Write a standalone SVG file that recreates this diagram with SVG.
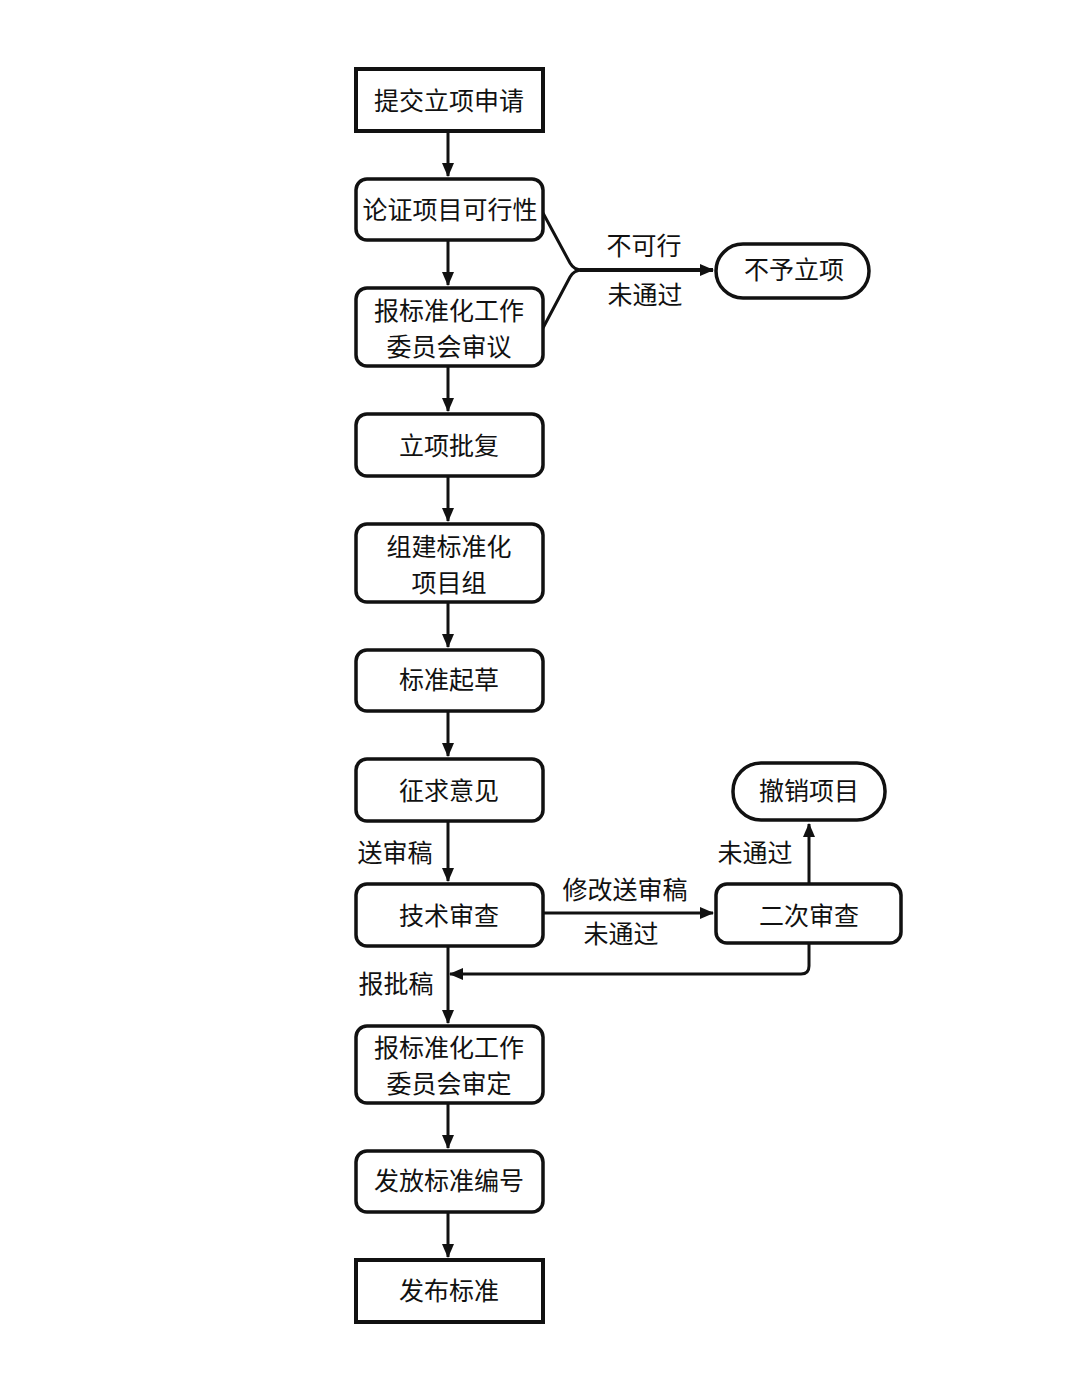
<svg xmlns="http://www.w3.org/2000/svg" width="1079" height="1385" viewBox="0 0 1079 1385">
<style>
.box{fill:#fff;stroke:#111;stroke-width:3.5}
.sq{fill:#fff;stroke:#111;stroke-width:4}
text{font-family:"Noto Sans CJK SC","Noto Sans",sans-serif;font-size:25px;fill:#111;text-anchor:middle;dominant-baseline:central}
.ln{fill:none;stroke:#111;stroke-width:3}
</style>
<defs>
<marker id="ah" viewBox="0 0 14 14" refX="13" refY="7" markerWidth="14" markerHeight="14" markerUnits="userSpaceOnUse" orient="auto">
<path d="M0,1 L14,7 L0,13 z" fill="#111"/>
</marker>
</defs>
<rect width="1079" height="1385" fill="#fff"/>
<g id="connectors">
<path class="ln" d="M448,131 V176" marker-end="url(#ah)"/>
<path class="ln" d="M448,240 V285" marker-end="url(#ah)"/>
<path class="ln" d="M448,366 V411" marker-end="url(#ah)"/>
<path class="ln" d="M448,476 V521" marker-end="url(#ah)"/>
<path class="ln" d="M448,602 V647" marker-end="url(#ah)"/>
<path class="ln" d="M448,711 V756" marker-end="url(#ah)"/>
<path class="ln" d="M448,821 V881" marker-end="url(#ah)"/>
<path class="ln" d="M448,946 V1023" marker-end="url(#ah)"/>
<path class="ln" d="M448,1103 V1148" marker-end="url(#ah)"/>
<path class="ln" d="M448,1212 V1257" marker-end="url(#ah)"/>
<path class="ln" d="M543,213 L570,263 Q574,270 582,270" />
<path class="ln" d="M543,328 L570,277 Q574,270 582,270" />
<path class="ln" style="stroke-width:4" d="M580,270 H713" marker-end="url(#ah)"/>
<path class="ln" d="M543,913 H713" marker-end="url(#ah)"/>
<path class="ln" d="M809,883 V824" marker-end="url(#ah)"/>
<path class="ln" d="M809,943 V966 Q809,974 801,974 H450" marker-end="url(#ah)"/>
<text x="644" y="244">不可行</text>
<text x="645" y="293">未通过</text>
<text x="395" y="851">送审稿</text>
<text x="625" y="888">修改送审稿</text>
<text x="621" y="932">未通过</text>
<text x="755" y="851">未通过</text>
<text x="396" y="982">报批稿</text>
</g>
<g id="n1"><rect class="sq" x="356" y="69" width="187" height="62"/><text x="449" y="99">提交立项申请</text></g>
<g id="n2"><rect class="box" x="356" y="179" width="187" height="61" rx="11"/><text x="450" y="208">论证项目可行性</text></g>
<g id="n3"><rect class="box" x="356" y="288" width="187" height="78" rx="11"/><text x="449" y="309">报标准化工作</text><text x="449" y="345">委员会审议</text></g>
<g id="n4"><rect class="box" x="356" y="414" width="187" height="62" rx="11"/><text x="449" y="444">立项批复</text></g>
<g id="n5"><rect class="box" x="356" y="524" width="187" height="78" rx="11"/><text x="449" y="545">组建标准化</text><text x="449" y="581">项目组</text></g>
<g id="n6"><rect class="box" x="356" y="650" width="187" height="61" rx="11"/><text x="449" y="678">标准起草</text></g>
<g id="n7"><rect class="box" x="356" y="759" width="187" height="62" rx="11"/><text x="449" y="789">征求意见</text></g>
<g id="n8"><rect class="box" x="356" y="884" width="187" height="62" rx="11"/><text x="449" y="914">技术审查</text></g>
<g id="n9"><rect class="box" x="356" y="1026" width="187" height="77" rx="11"/><text x="449" y="1046">报标准化工作</text><text x="449" y="1082">委员会审定</text></g>
<g id="n10"><rect class="box" x="356" y="1151" width="187" height="61" rx="11"/><text x="449" y="1179">发放标准编号</text></g>
<g id="n11"><rect class="sq" x="356" y="1260" width="187" height="62"/><text x="449" y="1289">发布标准</text></g>
<g id="n12"><rect class="box" x="716" y="244" width="153" height="54" rx="27"/><text x="794" y="268">不予立项</text></g>
<g id="n13"><rect class="box" x="733" y="763" width="152" height="57" rx="28"/><text x="809" y="789">撤销项目</text></g>
<g id="n14"><rect class="box" x="716" y="884" width="185" height="59" rx="11"/><text x="809" y="914">二次审查</text></g>
</svg>
